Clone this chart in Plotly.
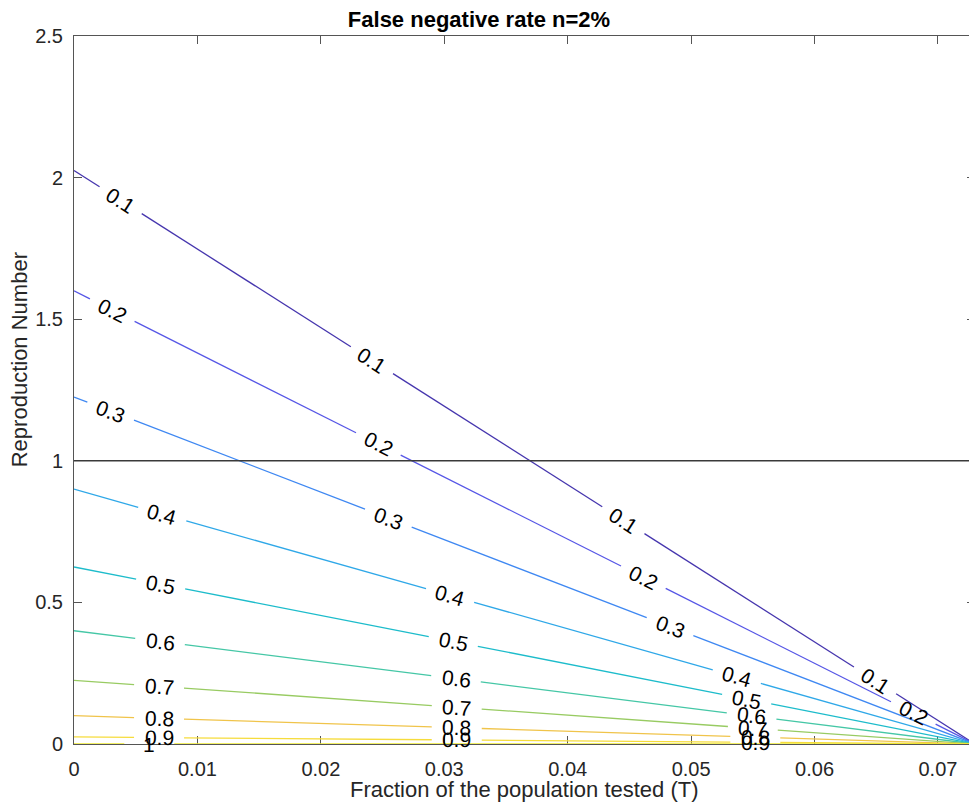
import math
import plotly.graph_objects as go

# ---------------- data ----------------
levels = [0.1, 0.2, 0.3, 0.4, 0.5, 0.6, 0.7, 0.8, 0.9, 1.0]
level_text = ["0.1", "0.2", "0.3", "0.4", "0.5", "0.6", "0.7", "0.8", "0.9", "1"]
# Reproduction number where each contour meets T = 0
r_at_zero = [2.025, 1.60, 1.225, 0.90, 0.625, 0.40, 0.225, 0.10, 0.025, 0.0]
# T where all contours reach R = 0
t_end = 0.073
r_threshold = 1.0

x_tickvals = [0, 0.01, 0.02, 0.03, 0.04, 0.05, 0.06, 0.07]
x_ticktext = ["0", "0.01", "0.02", "0.03", "0.04", "0.05", "0.06", "0.07"]
y_tickvals = [0, 0.5, 1, 1.5, 2, 2.5]
y_ticktext = ["0", "0.5", "1", "1.5", "2", "2.5"]

# contour label placement (T values along each line)
label_T = [
    [0.00378, 0.02414, 0.04451, 0.0649],
    [0.0031, 0.02466, 0.04613, 0.0680],
    [0.00297, 0.02547, 0.04829],
    [0.00715, 0.03047, 0.0537],
    [0.00702, 0.03073, 0.0545],
    [0.00697, 0.03095, 0.0549],
    [0.00689, 0.03101, 0.0550],
    [0.00689, 0.03101, 0.0552],
    [0.00689, 0.03101, 0.0552],
    [0.0061],
]

# ---------------- style ----------------
colors = ["#4636ae", "#5656e6", "#3f88f2", "#2fa8e8", "#1dbccb",
          "#45c7a6", "#98cb62", "#f0c44a", "#f6dc3c", "#eeea30"]
FONT = "Liberation Sans, Arial, Helvetica, sans-serif"
# page body has an 8px margin; figure is sized so the plot lands where the reference has it
W, H = 969, 802
ML, MR, MT, MB = 66, 2, 28, 66
T_MAX, R_MAX = 0.073, 2.5
plot_w = W - ML - MR
plot_h = H - MT - MB
px_T = plot_w / T_MAX
px_R = plot_h / R_MAX
GAP = 25  # half gap in px around labels

fig = go.Figure()
annotations = []

for lev, txt, r0, col, lts in zip(levels, level_text, r_at_zero, colors, label_T):
    slope_px = (r0 / t_end) * px_R / px_T
    ang = math.degrees(math.atan(slope_px))
    seglen = px_T * math.sqrt(1 + slope_px ** 2)
    half = GAP / seglen
    xs = [0.0]
    for t in sorted(lts):
        xs += [t - half, None, t + half]
    xs.append(t_end)
    ys = [None if x is None else r0 * (1 - x / t_end) for x in xs]
    fig.add_trace(go.Scatter(x=xs, y=ys, mode="lines",
                             line=dict(color=col, width=1.3),
                             connectgaps=False, hoverinfo="skip",
                             showlegend=False))
    for t in lts:
        annotations.append(dict(
            x=t, y=r0 * (1 - t / t_end), xref="x", yref="y",
            text=txt, showarrow=False, textangle=ang,
            xanchor="center", yanchor="middle",
            font=dict(family=FONT, size=21, color="#000000")))

# threshold line R = 1
fig.add_trace(go.Scatter(x=[0, T_MAX], y=[r_threshold, r_threshold], mode="lines",
                         line=dict(color="#3a3a3a", width=1.5),
                         hoverinfo="skip", showlegend=False))

# axis titles
annotations.append(dict(
    text="Fraction of the population tested (T)", xref="paper", yref="paper",
    x=0.5, y=0, xanchor="center", yanchor="middle", yshift=-45,
    showarrow=False, font=dict(family=FONT, size=22, color="#262626")))
annotations.append(dict(
    text="Reproduction Number", xref="paper", yref="paper",
    x=0, y=0.542, xanchor="center", yanchor="middle", xshift=-55,
    textangle=-90,
    showarrow=False, font=dict(family=FONT, size=22, color="#262626")))

axis_common = dict(
    showline=True, linecolor="#555555", linewidth=1, mirror="allticks",
    ticks="inside", ticklen=8, tickcolor="#555555", tickwidth=1,
    showgrid=False, zeroline=False, tickmode="array",
    tickfont=dict(family=FONT, size=20, color="#262626"),
    layer="below traces",
)

fig.update_layout(
    width=W, height=H,
    margin=dict(l=ML, r=MR, t=MT, b=MB, pad=0),
    paper_bgcolor="white", plot_bgcolor="white",
    title=dict(text="<b>False negative rate n=2%</b>", x=471 / W,
               xanchor="center", y=1 - 11 / H, yanchor="middle", yref="container",
               font=dict(family=FONT, size=22, color="#000000")),
    xaxis=dict(range=[0, T_MAX], tickvals=x_tickvals, ticktext=x_ticktext,
               ticklabelstandoff=7, **axis_common),
    yaxis=dict(range=[0, R_MAX], tickvals=y_tickvals, ticktext=y_ticktext,
               ticklabelstandoff=6, **axis_common),
    annotations=annotations,
)

fig.write_html("out.html")
